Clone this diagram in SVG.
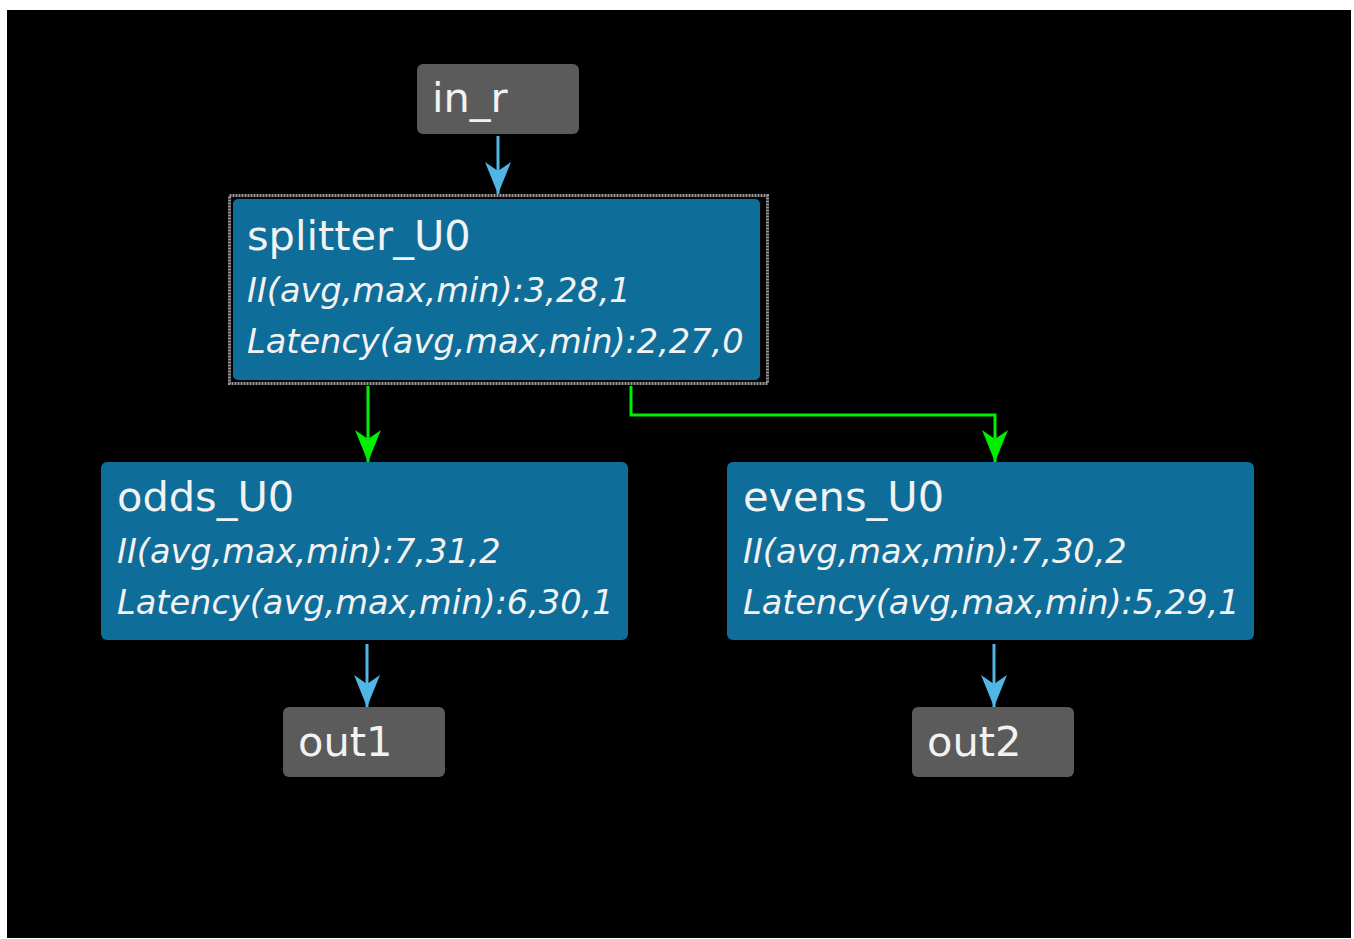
<svg xmlns="http://www.w3.org/2000/svg" width="1354" height="939" viewBox="0 0 1354 939">
<style>
.bg{fill:#000}
.io{fill:#5b5b5b}
.blk{fill:#0e6d99}
.t{font-family:"DejaVu Sans",sans-serif;fill:#f2f2f2}
.ttl{font-size:41.5px}
.io-t{font-size:41.5px}
.sub{font-size:33.6px;font-style:italic}
.cb{stroke:#4fb6e6;stroke-width:3;fill:none}
.cg{stroke:#00ee00;stroke-width:3;fill:none}
</style>
<defs>
<marker id="ab" viewBox="-34 -15 36 30" markerWidth="36" markerHeight="30" refX="0" refY="0" orient="auto" markerUnits="userSpaceOnUse">
<path d="M0,0 L-32,-13 L-23,0 L-32,13 Z" fill="#4fb6e6"/>
</marker>
<marker id="ag" viewBox="-34 -15 36 30" markerWidth="36" markerHeight="30" refX="0" refY="0" orient="auto" markerUnits="userSpaceOnUse">
<path d="M0,0 L-32,-13 L-23,0 L-32,13 Z" fill="#00ee00"/>
</marker>
</defs>
<rect x="0" y="0" width="1354" height="939" fill="#fff"/>
<rect class="bg" x="7" y="10" width="1344" height="928"/>
<g id="connectors">
<path class="cb" d="M498,136 V194" marker-end="url(#ab)"/>
<path class="cg" d="M368,386 V462" marker-end="url(#ag)"/>
<path class="cg" d="M631,386 V415 H995 V462" marker-end="url(#ag)"/>
<path class="cb" d="M367,644 V707" marker-end="url(#ab)"/>
<path class="cb" d="M994,644 V707" marker-end="url(#ab)"/>
</g>
<g id="in_r">
<rect class="io" x="417" y="64" width="162" height="70" rx="6"/>
<text class="t io-t" x="432" y="112">in_r</text>
</g>
<g id="splitter_U0">
<rect x="229.5" y="195.5" width="538" height="188" fill="#000" stroke="#9a9a9a" stroke-width="3" stroke-dasharray="2 1"/>
<rect class="blk" x="233" y="199" width="527" height="181" rx="5"/>
<text class="t ttl" x="247" y="250">splitter_U0</text>
<text class="t sub" x="247" y="302">II(avg,max,min):3,28,1</text>
<text class="t sub" x="247" y="353">Latency(avg,max,min):2,27,0</text>
</g>
<g id="odds_U0">
<rect class="blk" x="101" y="462" width="527" height="178" rx="6"/>
<text class="t ttl" x="117" y="511">odds_U0</text>
<text class="t sub" x="117" y="563">II(avg,max,min):7,31,2</text>
<text class="t sub" x="117" y="614">Latency(avg,max,min):6,30,1</text>
</g>
<g id="evens_U0">
<rect class="blk" x="727" y="462" width="527" height="178" rx="6"/>
<text class="t ttl" x="743" y="511">evens_U0</text>
<text class="t sub" x="743" y="563">II(avg,max,min):7,30,2</text>
<text class="t sub" x="743" y="614">Latency(avg,max,min):5,29,1</text>
</g>
<g id="out1">
<rect class="io" x="283" y="707" width="162" height="70" rx="6"/>
<text class="t io-t" x="298" y="756">out1</text>
</g>
<g id="out2">
<rect class="io" x="912" y="707" width="162" height="70" rx="6"/>
<text class="t io-t" x="927" y="756">out2</text>
</g>
</svg>
